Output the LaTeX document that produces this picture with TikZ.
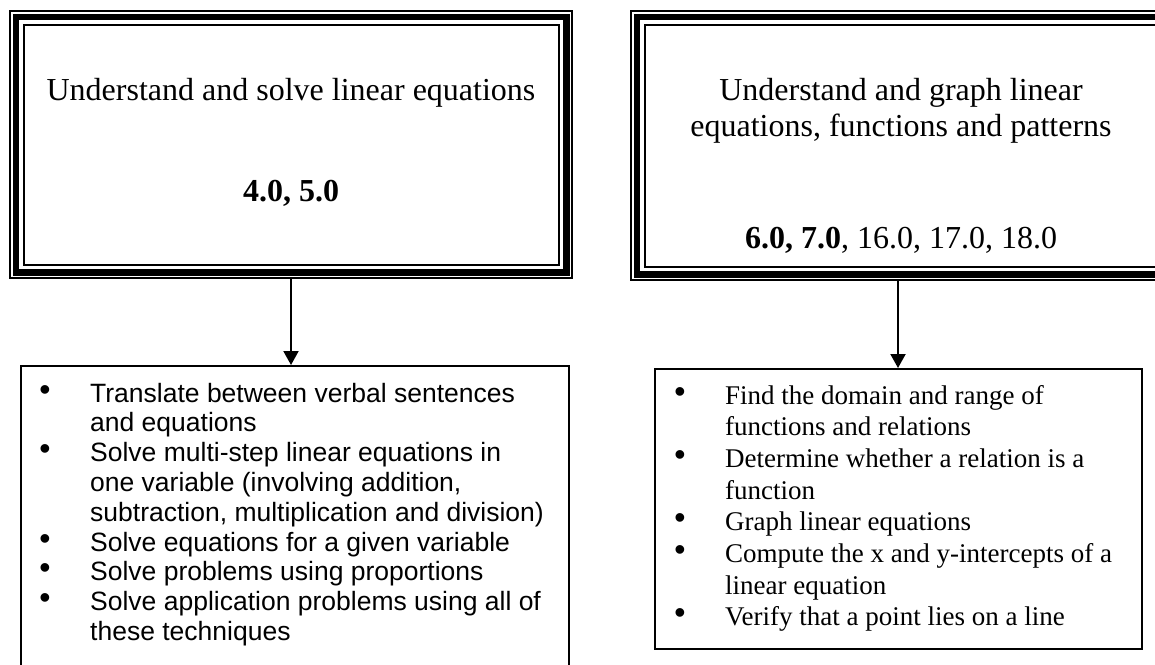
\documentclass[tikz,border=0pt]{standalone}
\usepackage{fontspec}
\setmainfont{Liberation Serif}
\newfontfamily\arialf{Liberation Sans}
\usetikzlibrary{arrows.meta}
\begin{document}
\begin{tikzpicture}[x=1pt,y=-1pt,
  frame/.style={draw=none,inner sep=0pt,anchor=north west},
  listbox/.style={draw=black,line width=2pt,inner sep=0pt,anchor=north west},
  toptext/.style={inner sep=0pt,anchor=base,font=\fontsize{32}{36}\selectfont},
  sansline/.style={inner sep=0pt,anchor=base west,font=\arialf\fontsize{26.5}{29.8}\selectfont},
  serifline/.style={inner sep=0pt,anchor=base west,font=\fontsize{27}{31.7}\selectfont},
  bulletmark/.style={inner sep=0pt,anchor=base,font=\arialf\fontsize{32}{32}\selectfont},
  arr/.style={line width=2pt,-{Triangle[width=15pt,length=14pt]}}
]
\useasboundingbox (0,0) rectangle (1155,664);
\clip (0,0) rectangle (1155,664);

% top boxes with triple border
\node[frame,minimum width=564pt,minimum height=269pt] (tl) at (9,10) {};
\node[frame,minimum width=542pt,minimum height=271pt] (tr) at (630,10) {};
\foreach \b in {tl,tr}{
  \draw[line width=2pt] ([shift={(1,1)}]\b.north west) rectangle ([shift={(-1,-1)}]\b.south east);
  \draw[line width=6.5pt] ([shift={(7,7)}]\b.north west) rectangle ([shift={(-7,-7)}]\b.south east);
  \draw[line width=2pt] ([shift={(14.5,14.5)}]\b.north west) rectangle ([shift={(-14.5,-14.5)}]\b.south east);
}

\node[toptext] (tlA) at (291,100) {Understand and solve linear equations};
\node[toptext] (tlB) at (291,201) {\bfseries 4.0, 5.0};
\node[toptext] (trA) at (901,100) {Understand and graph linear};
\node[toptext] (trB) at (901,136) {equations, functions and patterns};
\node[toptext] (trC) at (901,248) {\textbf{6.0, 7.0}, 16.0, 17.0, 18.0};

% bottom boxes
\node[listbox,minimum width=548pt,minimum height=320pt] (bl) at (19.5,365) {};
\node[listbox,minimum width=486.5pt,minimum height=280pt] (br) at (654,368) {};

% connectors
\coordinate (la) at (291,365);
\coordinate (ra) at (898,368);
\draw[arr] (la |- tl.south) -- (la);
\draw[arr] (ra |- tr.south) -- (ra);

% left list (Arial)
\foreach \k/\t in {0/{Translate between verbal sentences},1/{and equations},
  2/{Solve multi-step linear equations in},3/{one variable (involving addition,},
  4/{subtraction, multiplication and division)},5/{Solve equations for a given variable},
  6/{Solve problems using proportions},7/{Solve application problems using all of},
  8/{these techniques}}{
  \node[sansline] (L\k) at (90,402+29.8*\k) {\t};
}
\foreach \k in {0,2,5,6,7}{
  \node[bulletmark] (LB\k) at (45,400+29.8*\k) {\smash{•}};
}

% right list (Times)
\foreach \k/\t in {0/{Find the domain and range of},1/{functions and relations},
  2/{Determine whether a relation is a},3/{function},
  4/{Graph linear equations},5/{Compute the x and y-intercepts of a},
  6/{linear equation},7/{Verify that a point lies on a line}}{
  \node[serifline] (R\k) at (725,404+31.7*\k) {\t};
}
\foreach \k in {0,2,4,5,7}{
  \node[bulletmark] (RB\k) at (680,402+31.7*\k) {\smash{•}};
}
\end{tikzpicture}
\end{document}
